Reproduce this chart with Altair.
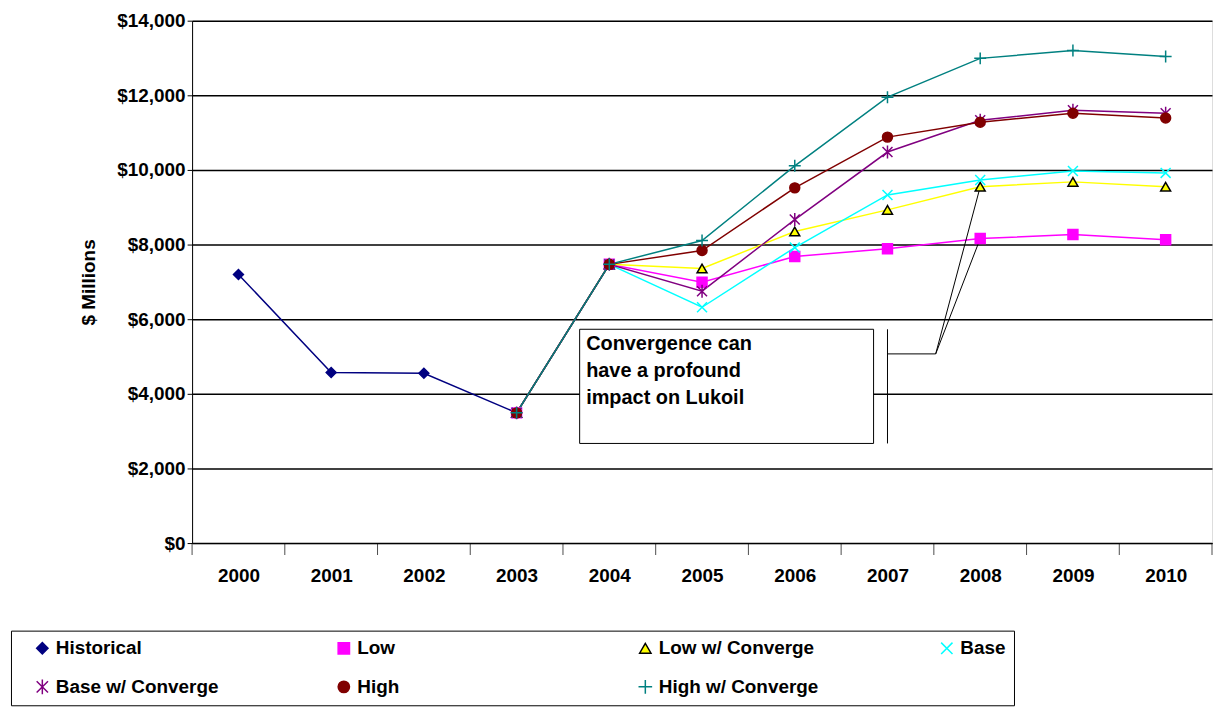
import altair as alt
import pandas as pd

years = list(range(2000, 2011))
historical = [7200, 4570, 4550, 3490, 7470]
low = [3490, 7470, 6990, 7680, 7890, 8160, 8270, 8130]
low_conv = [3490, 7470, 7360, 8350, 8930, 9550, 9680, 9550]
base = [3490, 7470, 6320, 7920, 9330, 9730, 9970, 9920]
base_conv = [3490, 7470, 6750, 8670, 10480, 11330, 11600, 11520]
high = [3490, 7470, 7840, 9520, 10880, 11280, 11520, 11390]
high_conv = [3490, 7470, 8110, 10110, 11950, 12990, 13200, 13040]

names = ["Historical", "Low", "Low w/ Converge", "Base",
         "Base w/ Converge", "High", "High w/ Converge"]
colors = ["#000080", "#FF00FF", "#FFFF00", "#00FFFF", "#800080", "#800000", "#008080"]
strokes = ["#000080", "#FF00FF", "#000000", "#00FFFF", "#800080", "#800000", "#008080"]
fills = ["#000080", "#FF00FF", "#FFFF00", "transparent", "transparent", "#800000", "transparent"]
xshape = "M-1,-1L1,1M-1,1L1,-1"
star = "M-1,-1L1,1M-1,1L1,-1M0,-1.3L0,1.3"
plus = "M-1.2,0L1.2,0M0,-1.2L0,1.2"
shapes = ["diamond", "square", "triangle-up", xshape, star, "circle", plus]

rows = []
for n, vals in zip(names, [historical, low, low_conv, base, base_conv, high, high_conv]):
    start = 2000 if n == "Historical" else 2003
    for i, v in enumerate(vals):
        rows.append({"series": n, "year": start + i, "value": v})
df = pd.DataFrame(rows)

font = "Liberation Sans"
W, H = 1025, 525

x = alt.X("year:Q", scale=alt.Scale(domain=[1999.5, 2010.5], nice=False),
          axis=alt.Axis(values=years, format="d", title=None, grid=False, ticks=False,
                        labelFontSize=19, labelFontWeight="bold", labelPadding=24,
                        domainColor="black", labelColor="black"))
y = alt.Y("value:Q", scale=alt.Scale(domain=[0, 14000]),
          axis=alt.Axis(values=list(range(0, 14001, 2000)), format="$,.0f", title="$ Millions",
                        titleFontSize=19, titleFontWeight="bold", labelFontSize=19,
                        labelFontWeight="bold", gridColor="black", gridWidth=1.5,
                        tickColor="black", domainColor="black", titlePadding=18,
                        labelColor="black", titleColor="black"))

sc = alt.Scale(domain=names, range=colors)
lines = alt.Chart(df).mark_line(strokeWidth=1.5).encode(
    x=x, y=y, color=alt.Color("series:N", scale=sc, legend=None), detail="series:N")

pts = alt.Chart(df).mark_point(size=100, strokeWidth=1.5, opacity=1).encode(
    x="year:Q", y="value:Q",
    shape=alt.Shape("series:N", scale=alt.Scale(domain=names, range=shapes), title=None,
                    legend=alt.Legend(orient="none", legendX=-182, legendY=H + 88,
                                      columns=4, direction="horizontal", gridAlign="all",
                                      labelFontSize=19, labelFontWeight="bold", labelFont=font,
                                      labelColor="black",
                                      symbolSize=130, symbolStrokeWidth=1.5, columnPadding=102,
                                      labelLimit=300, strokeColor="black", padding=8,
                                      symbolOffset=14, rowPadding=18)),
    stroke=alt.Stroke("series:N", scale=alt.Scale(domain=names, range=strokes), title=None),
    fill=alt.Fill("series:N", scale=alt.Scale(domain=names, range=fills), title=None),
)

tick_df = pd.DataFrame({"t": [1999.5 + i for i in range(12)]})
ticks = alt.Chart(tick_df).mark_tick(color="black", size=12, thickness=1, orient="vertical").encode(
    x="t:Q", y=alt.value(H + 6))

box_df = pd.DataFrame({"x1": [2003.68], "x2": [2006.85], "y1": [5730], "y2": [2670]})
box = alt.Chart(box_df).mark_rect(fill="white", stroke="black", strokeWidth=1).encode(
    x="x1:Q", x2="x2:Q", y="y1:Q", y2="y2:Q")
note_df = pd.DataFrame({"x": [2003.75], "y": [5600],
                        "t": [["Convergence can", "have a profound", "impact on Lukoil"]]})
note = alt.Chart(note_df).mark_text(align="left", baseline="top", fontSize=20, fontWeight="bold",
                                    font=font, lineHeight=27).encode(x="x:Q", y="y:Q", text="t")

seg_df = pd.DataFrame({
    "x": [2007.0, 2007.0, 2007.52, 2007.52],
    "y": [5730, 5070, 5070, 5070],
    "x2": [2007.0, 2007.52, 2008.0, 2008.0],
    "y2": [2670, 5070, 9550, 8160],
})
segs = alt.Chart(seg_df).mark_rule(color="black", strokeWidth=1).encode(
    x="x:Q", y="y:Q", x2="x2:Q", y2="y2:Q")

chart = (lines + ticks + box + note + segs + pts).properties(
    width=W, height=H, padding={"left": 2, "top": 2, "right": 0, "bottom": 0}
).configure_view(stroke=None).configure(font=font).resolve_scale(color="independent")

chart.save("out.html", embed_options={"renderer": "svg", "actions": False})
